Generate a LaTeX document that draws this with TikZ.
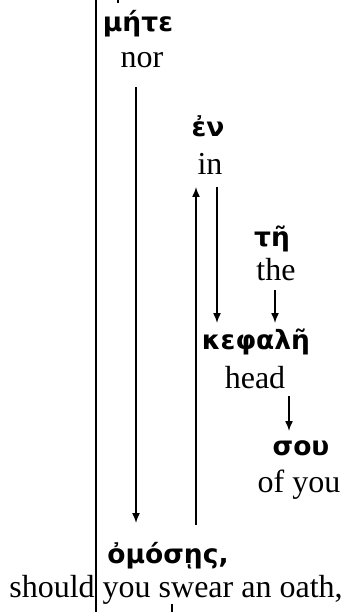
\documentclass[tikz,border=0pt]{standalone}
\usepackage{fontspec}
\setmainfont{Liberation Serif}
\newfontfamily\gk[Script=Greek]{DejaVu Sans}
\usetikzlibrary{arrows.meta}
\begin{document}
\begin{tikzpicture}[x=1pt,y=-1pt,
  en/.style={anchor=base, font=\fontsize{32}{36}\selectfont, inner sep=0pt},
  gr/.style={anchor=base, font=\fontsize{26.5}{30}\selectfont\gk\bfseries, inner sep=0pt},
  arr/.style={line width=1.5pt, -{Latex[length=10pt,width=8pt]}},
  rule/.style={line width=2pt},
  tick/.style={line width=1.5pt}]
\useasboundingbox (0,0) rectangle (344,612);
% texts
\node[gr] (g1) at (138,32) {μήτε};
\node[en] (e1) at (142,68) {nor};
\node[gr] (g2) at (208,137) {ἐν};
\node[en] (e2) at (210,175) {in};
\node[gr] (g3) at (272,246) {τῆ};
\node[en] (e3) at (276,280) {the};
\node[gr] (g4) at (256,349) {κεφαλῆ};
\node[en] (e4) at (255,388) {head};
\node[gr] (g5) at (301,455) {σου};
\node[en] (e5) at (299,492) {of you};
\node[gr] (g6) at (168,563) {ὀμόσῃς,};
\node[en] (e6) at (176,597) {should you swear an oath,};
% arrow ends
\coordinate (a1s) at (136,87);  \coordinate (a1e) at (136,523);
\coordinate (a2s) at (196,525); \coordinate (a2e) at (196,187);
\coordinate (a3s) at (217,187); \coordinate (a3e) at (217,323);
\coordinate (a4s) at (275,290); \coordinate (a4e) at (275,323);
\coordinate (a5s) at (289,396); \coordinate (a5e) at (289,431);
\draw[arr] (a1s) -- (a1e);
\draw[arr] (a2s) -- (a2e);
\draw[arr] (a3s) -- (a3e);
\draw[arr] (a4s) -- (a4e);
\draw[arr] (a5s) -- (a5e);
% main rule
\coordinate (rt) at (96,0); \coordinate (rb) at (96,612);
\draw[rule] (rt) -- (rb);
% cut-off ticks
\coordinate (t1a) at (118,0); \coordinate (t1b) at (118,3);
\coordinate (t2a) at (172,604); \coordinate (t2b) at (172,612);
\draw[tick] (t1a) -- (t1b);
\draw[tick] (t2a) -- (t2b);
\end{tikzpicture}
\end{document}
